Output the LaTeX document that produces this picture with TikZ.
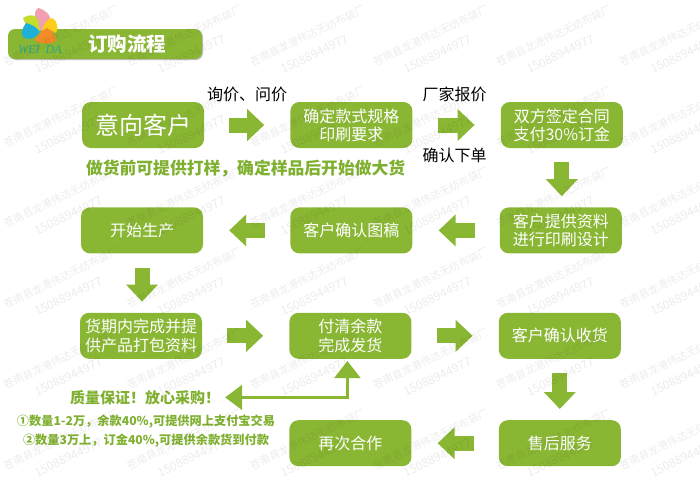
\documentclass[tikz,border=0pt]{standalone}
\usepackage{fontspec}
\setmainfont{Noto Sans CJK SC}
\newfontfamily\logofont{Liberation Serif}
\usetikzlibrary{positioning, arrows.meta, shadows}
\definecolor{leaf}{HTML}{8AB733}
\definecolor{leafdark}{HTML}{7FB030}
\definecolor{petalpink}{HTML}{F0A0B0}
\definecolor{petallime}{HTML}{C4DC2C}
\definecolor{petalyellow}{HTML}{FFCC1A}
\definecolor{petalblue}{HTML}{1FB0D6}
\definecolor{petalorange}{HTML}{F28C28}
\definecolor{logoteal}{HTML}{2BA58C}
\tikzset{
  stepbox/.style={rectangle, rounded corners=9pt, fill=leaf, text=white, minimum width=122pt, minimum height=46pt, inner sep=0pt, align=center, font=\fontsize{16}{18.2}\selectfont},
  twoline/.style={stepbox, execute at begin node={\rule{0pt}{19pt}}},
  flowarrow/.style={draw=leaf, line width=15pt, shorten <=25pt, shorten >=26pt, -{Triangle[length=17pt,width=31pt]}},
  downarrow/.style={flowarrow, shorten <=14pt, shorten >=11pt},
  tagtext/.style={font=\fontsize{16}{18}\selectfont, inner sep=0pt},
  notetext/.style={text=leafdark, inner sep=0pt, font=\fontsize{12.2}{14}\selectfont\bfseries},
  stamp/.style={black, opacity=0.075, inner sep=0pt, rotate=25.5, anchor=west}
}
\begin{document}
\begin{tikzpicture}[x=1pt, y=-1pt]
        \useasboundingbox (0,0) rectangle (700,482);
        % Title bar and logo
        \node[rectangle, rounded corners=7pt, fill=leaf, minimum width=194pt, minimum height=30pt, drop shadow={shadow xshift=1pt, shadow yshift=-1pt, opacity=0.5}] (title) at (105,44) {};
        \node[text=white, inner sep=0pt, font=\fontsize{19.5}{22}\selectfont\bfseries] (titletext) at (127,44) {订购流程};
        \fill[petalpink] (41,31) .. controls (34,22) and (33,12) .. (38,8) .. controls (44,9) and (52,15) .. (50,22) -- cycle;
        \fill[petallime] (40,33) .. controls (30,29) and (24,24) .. (23,18) .. controls (28,14) and (36,14) .. (38,20) -- cycle;
        \fill[petalyellow] (42,31) .. controls (43,24) and (48,18) .. (52,18) .. controls (57,20) and (59,28) .. (56,33) .. controls (52,30) and (46,29) .. cycle;
        \fill[petalblue] (40,32) .. controls (36,26) and (30,24) .. (26,23) .. controls (22,28) and (21,34) .. (23,37) .. controls (27,40) and (35,40) .. cycle;
        \fill[petalorange] (47,28) .. controls (42,30) and (37,36) .. (35,40) .. controls (39,44) and (50,45) .. (56,41) .. controls (56,36) and (52,30) .. cycle;
        \node[text=logoteal, inner sep=0pt, font=\logofont\itshape\fontsize{12}{14}\selectfont] (logotext) at (40,49.5) {WEI\ \ DA};
        % Steps of the order
        \node[stepbox, font=\fontsize{24}{26}\selectfont] (customer) at (143,125) {意向客户};
        \node[twoline, right=86pt of customer] (spec) {确定款式规格\\印刷要求};
        \node[twoline, right=88pt of spec] (contract) {双方签定合同\\支付30\%订金};
        \node[twoline, below=59pt of contract, xshift=-1pt] (design) {客户提供资料\\进行印刷设计};
        \node[stepbox, left=87pt of design] (proof) {客户确认图稿};
        \node[stepbox, left=87pt of proof] (produce) {开始生产};
        \node[twoline, below=59pt of produce, xshift=-1pt] (pack) {货期内完成并提\\供产品打包资料};
        \node[twoline, right=87pt of pack] (balance) {付清余款\\完成发货};
        \node[stepbox, right=87pt of balance] (receipt) {客户确认收货};
        \node[stepbox, below=61pt of receipt] (service) {售后服务};
        \node[stepbox, left=87pt of service] (again) {再次合作};
        % Green remarks
        \node[notetext, font=\fontsize{16.8}{19}\selectfont\bfseries, below right=12pt and 4pt of customer.south west] (hint) {做货前可提供打样，确定样品后开始做大货};
        \node[notetext, font=\fontsize{15}{17}\selectfont\bfseries, below=31pt of pack, xshift=4pt] (quality) {质量保证！放心采购！};
        \node[notetext, below=10pt of quality, xshift=1pt] (termone) {①数量1-2万，余款40\%,可提供网上支付宝交易};
        \node[notetext, below=5pt of termone] (termtwo) {②数量3万上，订金40\%,可提供余款货到付款};
        % Arrows between steps
        \draw[flowarrow] (customer) -- (spec) node[midway, above=16pt, tagtext] (ask) {询价、问价};
        \draw[flowarrow] (spec) -- (contract) node[midway, above=16pt, xshift=-2pt, tagtext] (quote) {厂家报价} node[midway, below=16pt, xshift=-2pt, tagtext] (confirm) {确认下单};
        \draw[downarrow] (contract.south) -- (contract.south |- design.north);
        \draw[flowarrow] (design) -- (proof);
        \draw[flowarrow] (proof) -- (produce);
        \draw[downarrow] (produce.south) -- (produce.south |- pack.north);
        \draw[flowarrow] (pack) -- (balance);
        \draw[flowarrow] (balance) -- (receipt);
        \draw[downarrow] (receipt) -- (service);
        \draw[flowarrow] (service) -- (again);
        \draw[draw=leaf, line width=2.2pt, shorten <=5pt, shorten >=2pt, {Triangle[length=17pt,width=25pt]}-{Triangle[length=17pt,width=26pt]}] (quality.east) -| ([xshift=-3pt]balance.south);
        % Watermark
        \foreach \r in {0,...,5}
          \foreach \c in {0,...,5} {
            \node[stamp, font=\fontsize{10.5}{12}\selectfont] (stamp\r\c) at (4+123.2*\c,63+80.7*\r) {苍南县龙港伟达无纺布袋厂};
            \node[stamp, font=\fontsize{12}{14}\selectfont] (phone\r\c) at (35+123.2*\c,70+80.7*\r) {15088944977};
          }
    \end{tikzpicture}
\end{document}
